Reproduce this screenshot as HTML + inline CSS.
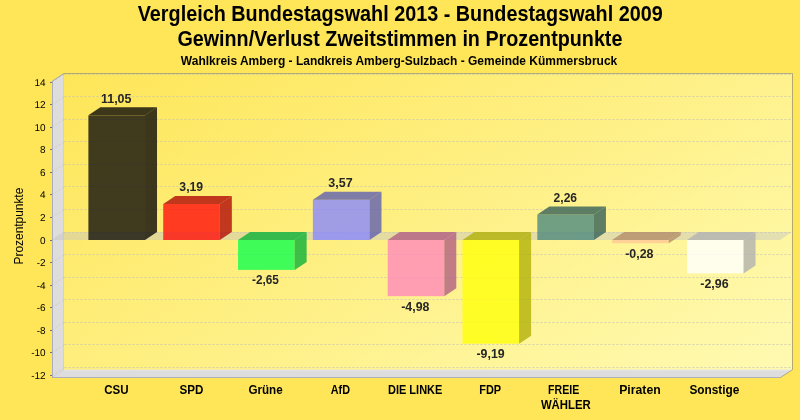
<!DOCTYPE html><html><head><meta charset="utf-8"><style>html,body{margin:0;padding:0;background:#FEE658;overflow:hidden}svg{display:block}text{font-family:"Liberation Sans",sans-serif}svg{will-change:transform}</style></head><body>
<svg width="800" height="420" viewBox="0 0 800 420">
<defs><linearGradient id="bw" x1="64" y1="73" x2="383.6" y2="612" gradientUnits="userSpaceOnUse"><stop offset="0" stop-color="#FEE658"/><stop offset="1" stop-color="#FFFAB2"/></linearGradient></defs>
<rect width="800" height="420" fill="#FEE658"/>
<polygon points="52,377.5 52,81 64,73 792,73 792,369.7 780,377.5" fill="url(#bw)"/>
<polygon points="52,377.5 52,81 64,73 64,369.7 792,369.7 780,377.5" fill="#DDDDDD"/>
<path d="M52,377.5 L64,369.7 M63.5,369.7 L63.5,73.5" fill="none" stroke="#C8C8D0" stroke-width="0.6"/>
<path d="M64,370.3 L792,370.3" fill="none" stroke="#E4E4EC" stroke-width="0.8"/>
<path d="M52,375.36 L64,367.36" fill="none" stroke="#C0C0C0" stroke-width="0.6" stroke-dasharray="2,2"/>
<path d="M64,367.5 L792,367.5" fill="none" stroke="#C0C0C0" stroke-opacity="0.68" stroke-width="1" stroke-dasharray="2,2" stroke-dashoffset="3.6"/>
<path d="M52,352.80 L64,344.80" fill="none" stroke="#C0C0C0" stroke-width="0.6" stroke-dasharray="2,2"/>
<path d="M64,344.5 L792,344.5" fill="none" stroke="#C0C0C0" stroke-opacity="0.68" stroke-width="1" stroke-dasharray="2,2" stroke-dashoffset="3.6"/>
<path d="M52,330.24 L64,322.24" fill="none" stroke="#C0C0C0" stroke-width="0.6" stroke-dasharray="2,2"/>
<path d="M64,322.5 L792,322.5" fill="none" stroke="#C0C0C0" stroke-opacity="0.68" stroke-width="1" stroke-dasharray="2,2" stroke-dashoffset="3.6"/>
<path d="M52,307.68 L64,299.68" fill="none" stroke="#C0C0C0" stroke-width="0.6" stroke-dasharray="2,2"/>
<path d="M64,299.5 L792,299.5" fill="none" stroke="#C0C0C0" stroke-opacity="0.68" stroke-width="1" stroke-dasharray="2,2" stroke-dashoffset="3.6"/>
<path d="M52,285.12 L64,277.12" fill="none" stroke="#C0C0C0" stroke-width="0.6" stroke-dasharray="2,2"/>
<path d="M64,277.5 L792,277.5" fill="none" stroke="#C0C0C0" stroke-opacity="0.68" stroke-width="1" stroke-dasharray="2,2" stroke-dashoffset="3.6"/>
<path d="M52,262.56 L64,254.56" fill="none" stroke="#C0C0C0" stroke-width="0.6" stroke-dasharray="2,2"/>
<path d="M64,254.5 L792,254.5" fill="none" stroke="#C0C0C0" stroke-opacity="0.68" stroke-width="1" stroke-dasharray="2,2" stroke-dashoffset="3.6"/>
<path d="M52,240.00 L64,232.00" fill="none" stroke="#C0C0C0" stroke-width="0.6" stroke-dasharray="2,2"/>
<path d="M64,232.5 L792,232.5" fill="none" stroke="#C0C0C0" stroke-opacity="0.68" stroke-width="1" stroke-dasharray="2,2" stroke-dashoffset="3.6"/>
<path d="M52,217.44 L64,209.44" fill="none" stroke="#C0C0C0" stroke-width="0.6" stroke-dasharray="2,2"/>
<path d="M64,209.5 L792,209.5" fill="none" stroke="#C0C0C0" stroke-opacity="0.68" stroke-width="1" stroke-dasharray="2,2" stroke-dashoffset="3.6"/>
<path d="M52,194.88 L64,186.88" fill="none" stroke="#C0C0C0" stroke-width="0.6" stroke-dasharray="2,2"/>
<path d="M64,186.5 L792,186.5" fill="none" stroke="#C0C0C0" stroke-opacity="0.68" stroke-width="1" stroke-dasharray="2,2" stroke-dashoffset="3.6"/>
<path d="M52,172.32 L64,164.32" fill="none" stroke="#C0C0C0" stroke-width="0.6" stroke-dasharray="2,2"/>
<path d="M64,164.5 L792,164.5" fill="none" stroke="#C0C0C0" stroke-opacity="0.68" stroke-width="1" stroke-dasharray="2,2" stroke-dashoffset="3.6"/>
<path d="M52,149.76 L64,141.76" fill="none" stroke="#C0C0C0" stroke-width="0.6" stroke-dasharray="2,2"/>
<path d="M64,141.5 L792,141.5" fill="none" stroke="#C0C0C0" stroke-opacity="0.68" stroke-width="1" stroke-dasharray="2,2" stroke-dashoffset="3.6"/>
<path d="M52,127.20 L64,119.20" fill="none" stroke="#C0C0C0" stroke-width="0.6" stroke-dasharray="2,2"/>
<path d="M64,119.5 L792,119.5" fill="none" stroke="#C0C0C0" stroke-opacity="0.68" stroke-width="1" stroke-dasharray="2,2" stroke-dashoffset="3.6"/>
<path d="M52,104.64 L64,96.64" fill="none" stroke="#C0C0C0" stroke-width="0.6" stroke-dasharray="2,2"/>
<path d="M64,96.5 L792,96.5" fill="none" stroke="#C0C0C0" stroke-opacity="0.68" stroke-width="1" stroke-dasharray="2,2" stroke-dashoffset="3.6"/>
<path d="M52,82.08 L64,74.08" fill="none" stroke="#C0C0C0" stroke-width="0.6" stroke-dasharray="2,2"/>
<path d="M64,74.5 L792,74.5" fill="none" stroke="#C0C0C0" stroke-opacity="0.68" stroke-width="1" stroke-dasharray="2,2" stroke-dashoffset="3.6"/>
<polygon points="52,240.00 64,232.00 792,232.00 780,240.00" fill="#C4C4C4" fill-opacity="0.45"/>
<path d="M52.5,377.5 L52.5,81 L64,73.5 L792.5,73.5 L792.5,369.7 L780.5,377.5 Z" fill="none" stroke="#808080" stroke-opacity="0.6" stroke-width="1"/>
<rect x="88.40" y="115.36" width="56.62" height="124.64" fill="rgb(16,15,11)" fill-opacity="0.80"/>
<polygon points="145.02,240.00 145.02,115.36 157.02,107.36 157.02,232.00" fill="rgb(11,10,7)" fill-opacity="0.80"/>
<polygon points="88.40,115.36 100.40,107.36 157.02,107.36 145.02,115.36" fill="rgb(11,10,7)" fill-opacity="0.80"/>
<rect x="163.22" y="204.02" width="56.62" height="35.98" fill="rgb(255,15,12)" fill-opacity="0.80"/>
<polygon points="219.84,240.00 219.84,204.02 231.84,196.02 231.84,232.00" fill="rgb(178,10,8)" fill-opacity="0.80"/>
<polygon points="163.22,204.02 175.22,196.02 231.84,196.02 219.84,204.02" fill="rgb(178,10,8)" fill-opacity="0.80"/>
<rect x="238.04" y="240.00" width="56.62" height="29.89" fill="rgb(16,255,80)" fill-opacity="0.80"/>
<polygon points="294.66,269.89 294.66,240.00 306.66,232.00 306.66,261.89" fill="rgb(11,178,56)" fill-opacity="0.80"/>
<polygon points="238.04,240.00 250.04,232.00 306.66,232.00 294.66,240.00" fill="rgb(11,178,56)" fill-opacity="0.80"/>
<rect x="312.86" y="199.73" width="56.62" height="40.27" fill="rgb(136,136,255)" fill-opacity="0.80"/>
<polygon points="369.48,240.00 369.48,199.73 381.48,191.73 381.48,232.00" fill="rgb(95,95,178)" fill-opacity="0.80"/>
<polygon points="312.86,199.73 324.86,191.73 381.48,191.73 369.48,199.73" fill="rgb(95,95,178)" fill-opacity="0.80"/>
<rect x="387.68" y="240.00" width="56.62" height="56.17" fill="rgb(255,136,188)" fill-opacity="0.80"/>
<polygon points="444.30,296.17 444.30,240.00 456.30,232.00 456.30,288.17" fill="rgb(178,95,131)" fill-opacity="0.80"/>
<polygon points="387.68,240.00 399.68,232.00 456.30,232.00 444.30,240.00" fill="rgb(178,95,131)" fill-opacity="0.80"/>
<rect x="462.50" y="240.00" width="56.62" height="103.66" fill="rgb(255,255,10)" fill-opacity="0.80"/>
<polygon points="519.12,343.66 519.12,240.00 531.12,232.00 531.12,335.66" fill="rgb(178,178,7)" fill-opacity="0.80"/>
<polygon points="462.50,240.00 474.50,232.00 531.12,232.00 519.12,240.00" fill="rgb(178,178,7)" fill-opacity="0.80"/>
<rect x="537.32" y="214.51" width="56.62" height="25.49" fill="rgb(78,138,128)" fill-opacity="0.80"/>
<polygon points="593.94,240.00 593.94,214.51 605.94,206.51 605.94,232.00" fill="rgb(54,96,89)" fill-opacity="0.80"/>
<polygon points="537.32,214.51 549.32,206.51 605.94,206.51 593.94,214.51" fill="rgb(54,96,89)" fill-opacity="0.80"/>
<rect x="612.14" y="240.00" width="56.62" height="3.16" fill="rgb(255,200,150)" fill-opacity="0.80"/>
<polygon points="668.76,243.16 668.76,240.00 680.76,232.00 680.76,235.16" fill="rgb(178,140,105)" fill-opacity="0.80"/>
<polygon points="612.14,240.00 624.14,232.00 680.76,232.00 668.76,240.00" fill="rgb(178,140,105)" fill-opacity="0.80"/>
<rect x="686.96" y="240.00" width="56.62" height="33.39" fill="rgb(255,255,255)" fill-opacity="0.80"/>
<polygon points="743.58,273.39 743.58,240.00 755.58,232.00 755.58,265.39" fill="rgb(178,178,178)" fill-opacity="0.80"/>
<polygon points="686.96,240.00 698.96,232.00 755.58,232.00 743.58,240.00" fill="rgb(178,178,178)" fill-opacity="0.80"/>
<line x1="52.5" y1="81" x2="52.5" y2="378" stroke="#ADADBB" stroke-width="1"/>
<line x1="52" y1="377.5" x2="780" y2="377.5" stroke="#ADADBB" stroke-width="1"/>
<line x1="50" y1="375.5" x2="52" y2="375.5" stroke="#707080" stroke-width="1"/>
<text x="45.6" y="379.0" text-anchor="end" font-size="10" fill="#000" text-rendering="geometricPrecision">-12</text>
<line x1="50" y1="352.5" x2="52" y2="352.5" stroke="#707080" stroke-width="1"/>
<text x="45.6" y="356.0" text-anchor="end" font-size="10" fill="#000" text-rendering="geometricPrecision">-10</text>
<line x1="50" y1="330.5" x2="52" y2="330.5" stroke="#707080" stroke-width="1"/>
<text x="45.6" y="334.0" text-anchor="end" font-size="10" fill="#000" text-rendering="geometricPrecision">-8</text>
<line x1="50" y1="307.5" x2="52" y2="307.5" stroke="#707080" stroke-width="1"/>
<text x="45.6" y="311.0" text-anchor="end" font-size="10" fill="#000" text-rendering="geometricPrecision">-6</text>
<line x1="50" y1="285.5" x2="52" y2="285.5" stroke="#707080" stroke-width="1"/>
<text x="45.6" y="289.0" text-anchor="end" font-size="10" fill="#000" text-rendering="geometricPrecision">-4</text>
<line x1="50" y1="262.5" x2="52" y2="262.5" stroke="#707080" stroke-width="1"/>
<text x="45.6" y="266.0" text-anchor="end" font-size="10" fill="#000" text-rendering="geometricPrecision">-2</text>
<line x1="50" y1="240.5" x2="52" y2="240.5" stroke="#707080" stroke-width="1"/>
<text x="45.6" y="244.0" text-anchor="end" font-size="10" fill="#000" text-rendering="geometricPrecision">0</text>
<line x1="50" y1="217.5" x2="52" y2="217.5" stroke="#707080" stroke-width="1"/>
<text x="45.6" y="221.0" text-anchor="end" font-size="10" fill="#000" text-rendering="geometricPrecision">2</text>
<line x1="50" y1="194.5" x2="52" y2="194.5" stroke="#707080" stroke-width="1"/>
<text x="45.6" y="198.0" text-anchor="end" font-size="10" fill="#000" text-rendering="geometricPrecision">4</text>
<line x1="50" y1="172.5" x2="52" y2="172.5" stroke="#707080" stroke-width="1"/>
<text x="45.6" y="176.0" text-anchor="end" font-size="10" fill="#000" text-rendering="geometricPrecision">6</text>
<line x1="50" y1="149.5" x2="52" y2="149.5" stroke="#707080" stroke-width="1"/>
<text x="45.6" y="153.0" text-anchor="end" font-size="10" fill="#000" text-rendering="geometricPrecision">8</text>
<line x1="50" y1="127.5" x2="52" y2="127.5" stroke="#707080" stroke-width="1"/>
<text x="45.6" y="131.0" text-anchor="end" font-size="10" fill="#000" text-rendering="geometricPrecision">10</text>
<line x1="50" y1="104.5" x2="52" y2="104.5" stroke="#707080" stroke-width="1"/>
<text x="45.6" y="108.0" text-anchor="end" font-size="10" fill="#000" text-rendering="geometricPrecision">12</text>
<line x1="50" y1="82.5" x2="52" y2="82.5" stroke="#707080" stroke-width="1"/>
<text x="45.6" y="86.0" text-anchor="end" font-size="10" fill="#000" text-rendering="geometricPrecision">14</text>
<text transform="translate(23,226.05) rotate(-90)" text-anchor="middle" font-size="12" fill="#000" textLength="76.8" lengthAdjust="spacing">Prozentpunkte</text>
<text x="137.73" y="20.70" font-size="21.5" font-weight="bold" fill="#000" textLength="525.02" lengthAdjust="spacingAndGlyphs">Vergleich Bundestagswahl 2013 - Bundestagswahl 2009</text>
<text x="177.40" y="45.70" font-size="21.5" font-weight="bold" fill="#000" textLength="445.01" lengthAdjust="spacingAndGlyphs">Gewinn/Verlust Zweitstimmen in Prozentpunkte</text>
<text x="180.87" y="64.80" font-size="12" font-weight="bold" fill="#000" textLength="436.37" lengthAdjust="spacingAndGlyphs">Wahlkreis Amberg - Landkreis Amberg-Sulzbach - Gemeinde Kümmersbruck</text>
<text x="100.94" y="102.50" font-size="12" font-weight="bold" fill="#262626" textLength="30.54" lengthAdjust="spacingAndGlyphs">11,05</text>
<text x="179.35" y="190.90" font-size="12" font-weight="bold" fill="#262626" textLength="23.81" lengthAdjust="spacingAndGlyphs">3,19</text>
<text x="252.00" y="283.75" font-size="12" font-weight="bold" fill="#262626" textLength="26.92" lengthAdjust="spacingAndGlyphs">-2,65</text>
<text x="328.35" y="186.90" font-size="12" font-weight="bold" fill="#262626" textLength="24.32" lengthAdjust="spacingAndGlyphs">3,57</text>
<text x="401.25" y="310.90" font-size="12" font-weight="bold" fill="#262626" textLength="28.23" lengthAdjust="spacingAndGlyphs">-4,98</text>
<text x="476.50" y="357.90" font-size="12" font-weight="bold" fill="#262626" textLength="28.20" lengthAdjust="spacingAndGlyphs">-9,19</text>
<text x="553.58" y="201.90" font-size="12" font-weight="bold" fill="#262626" textLength="23.48" lengthAdjust="spacingAndGlyphs">2,26</text>
<text x="625.25" y="257.90" font-size="12" font-weight="bold" fill="#262626" textLength="28.23" lengthAdjust="spacingAndGlyphs">-0,28</text>
<text x="700.25" y="287.90" font-size="12" font-weight="bold" fill="#262626" textLength="28.39" lengthAdjust="spacingAndGlyphs">-2,96</text>
<text x="104.24" y="393.80" font-size="12" font-weight="bold" fill="#000" textLength="24.43" lengthAdjust="spacingAndGlyphs">CSU</text>
<text x="179.43" y="393.75" font-size="12" font-weight="bold" fill="#000" textLength="23.86" lengthAdjust="spacingAndGlyphs">SPD</text>
<text x="248.42" y="393.80" font-size="12" font-weight="bold" fill="#000" textLength="34.20" lengthAdjust="spacingAndGlyphs">Grüne</text>
<text x="330.75" y="393.80" font-size="12" font-weight="bold" fill="#000" textLength="19.25" lengthAdjust="spacingAndGlyphs">AfD</text>
<text x="387.98" y="393.80" font-size="12" font-weight="bold" fill="#000" textLength="54.38" lengthAdjust="spacingAndGlyphs">DIE LINKE</text>
<text x="479.26" y="393.80" font-size="12" font-weight="bold" fill="#000" textLength="21.90" lengthAdjust="spacingAndGlyphs">FDP</text>
<text x="548.10" y="393.75" font-size="12" font-weight="bold" fill="#000" textLength="31.14" lengthAdjust="spacingAndGlyphs">FREIE</text>
<text x="540.88" y="408.60" font-size="12" font-weight="bold" fill="#000" textLength="49.97" lengthAdjust="spacingAndGlyphs">WÄHLER</text>
<text x="619.20" y="393.80" font-size="12" font-weight="bold" fill="#000" textLength="41.48" lengthAdjust="spacingAndGlyphs">Piraten</text>
<text x="689.41" y="393.80" font-size="12" font-weight="bold" fill="#000" textLength="49.97" lengthAdjust="spacingAndGlyphs">Sonstige</text>
</svg></body></html>
